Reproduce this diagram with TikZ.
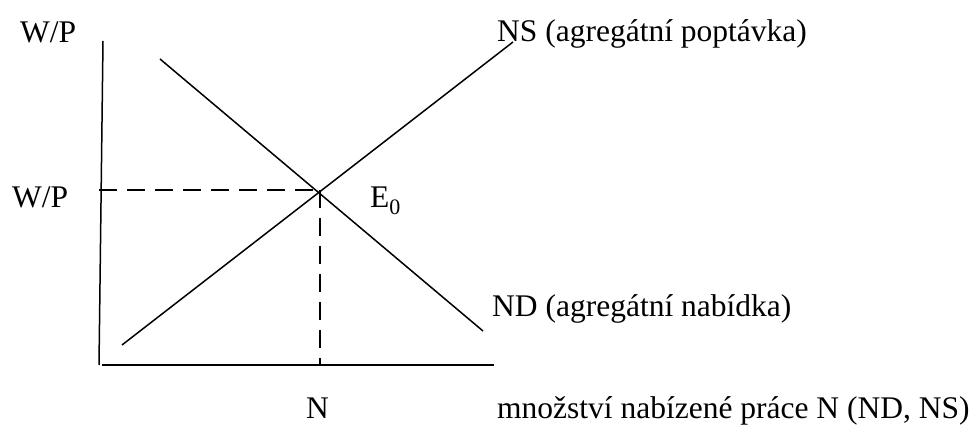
\documentclass[tikz,border=0pt]{standalone}
\usepackage{fontspec}
\setmainfont{Liberation Serif}
\usetikzlibrary{positioning}
\tikzset{
  axis/.style={line width=1.5pt},
  curve/.style={line width=1.5pt},
  guide/.style={line width=1.5pt, dash pattern=on 18pt off 10pt},
  lbl/.style={font=\fontsize{31.5}{36}\selectfont, inner sep=0pt,
              anchor=base west},
}
\begin{document}
\begin{tikzpicture}[x=1pt,y=-1pt]
  \useasboundingbox (0,0) rectangle (980,435);

  % axes
  \coordinate (ytop) at (103,41);
  \coordinate (O) at (99,365);
  \coordinate (xo) at (102,365);
  \coordinate (xend) at (494,365);
  \draw[axis] (ytop) -- (O);
  \draw[axis] (xo) -- (xend);

  % the two curves, crossing in E
  \coordinate (nd0) at (160,59);
  \coordinate (nd1) at (483,331);
  \coordinate (ns0) at (122,345);
  \coordinate (ns1) at (513,42);
  \coordinate (E) at (320,190);
  \coordinate (yE) at (99,190);
  \coordinate (xE) at (320,365);
  \draw[curve] (nd0) -- (nd1);
  \draw[curve] (ns0) -- (ns1);

  % guides to the axes
  \draw[guide] (yE) -- (E);
  \draw[guide] (E) -- (xE);

  % labels
  \node[lbl] (wpTop) at (20,43) {W/P};
  \node[lbl] (wpMid) at (12,208) {W/P};
  \node[lbl] (E0) at (370,208) {E\textsubscript{0}};
  \node[lbl] (nsLbl) at (497,42) {NS (agregátní poptávka)};
  \node[lbl] (ndLbl) at (492,317) {ND (agregátní nabídka)};
  \node[lbl] (nLbl) at (306,418) {N};
  \node[lbl] (xLbl) at (497,418) {množství nabízené práce N (ND, NS)};
\end{tikzpicture}
\end{document}
